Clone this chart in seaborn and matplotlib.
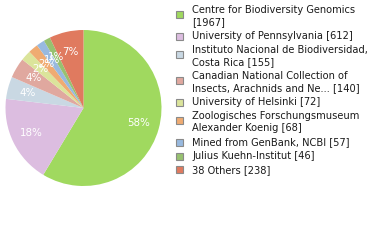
import matplotlib
matplotlib.use("Agg")
import matplotlib.pyplot as plt
from matplotlib.patches import Rectangle
import seaborn as sns
import numpy as np

labels = [
    "Centre for Biodiversity Genomics\n[1967]",
    "University of Pennsylvania [612]",
    "Instituto Nacional de Biodiversidad,\nCosta Rica [155]",
    "Canadian National Collection of\nInsects, Arachnids and Ne... [140]",
    "University of Helsinki [72]",
    "Zoologisches Forschungsmuseum\nAlexander Koenig [68]",
    "Mined from GenBank, NCBI [57]",
    "Julius Kuehn-Institut [46]",
    "38 Others [238]",
]
values = [1967, 612, 155, 140, 72, 68, 57, 46, 238]
colors = ["#a0d95f", "#dcbde0", "#c9d8e3", "#e0a89f", "#dbe49b",
          "#efab72", "#98b9df", "#97c170", "#e07a5f"]

sns.set_style("white")
plt.rcParams['font.family'] = ['DejaVu Sans']
palette = sns.color_palette(colors)

W, H = 380, 240
fig = plt.figure(figsize=(W / 100, H / 100), dpi=100)

cx, cy, r = 83.5, 108, 78
ax = fig.add_axes([(cx - r) / W, 1 - (cy + r) / H, 2 * r / W, 2 * r / H])
total = sum(values)
wedges, _ = ax.pie(values, colors=palette, startangle=90, counterclock=False,
                   wedgeprops=dict(linewidth=0))
ax.set_aspect("equal")
ax.set_xlim(-1, 1)
ax.set_ylim(-1, 1)
ax.axis("off")

start = 90.0
for v in values:
    frac = v / total
    mid = np.deg2rad(start - frac * 360 / 2)
    start -= frac * 360
    pct = int(frac * 100)
    ax.text(0.74 * np.cos(mid), 0.74 * np.sin(mid), f"{pct}%", color="white",
            ha="center", va="center", fontsize=7.4)

# legend
fs = 7.1
line_h = 12.2
gap = 1.7
line = 0
for e, (lab, col) in enumerate(zip(labels, palette)):
    nl = lab.count("\n") + 1
    y_first = 10 + line_h * line + gap * e
    y_mid = y_first + line_h * (nl - 1) / 2
    ym = y_mid - (1.5 if nl > 1 else 0)
    fig.patches.append(Rectangle(((179 - 3.5) / W, 1 - (ym + 3.5) / H), 7 / W, 7 / H,
                                 transform=fig.transFigure, facecolor=col,
                                 edgecolor="#8a8a8a", linewidth=0.8))
    for k, t in enumerate(lab.split("\n")):
        fig.text(192 / W, 1 - (y_first + line_h * k) / H, t, fontsize=fs,
                 ha="left", va="center", color="#1a1a1a")
    line += nl

fig.savefig("out.png", dpi=100)
